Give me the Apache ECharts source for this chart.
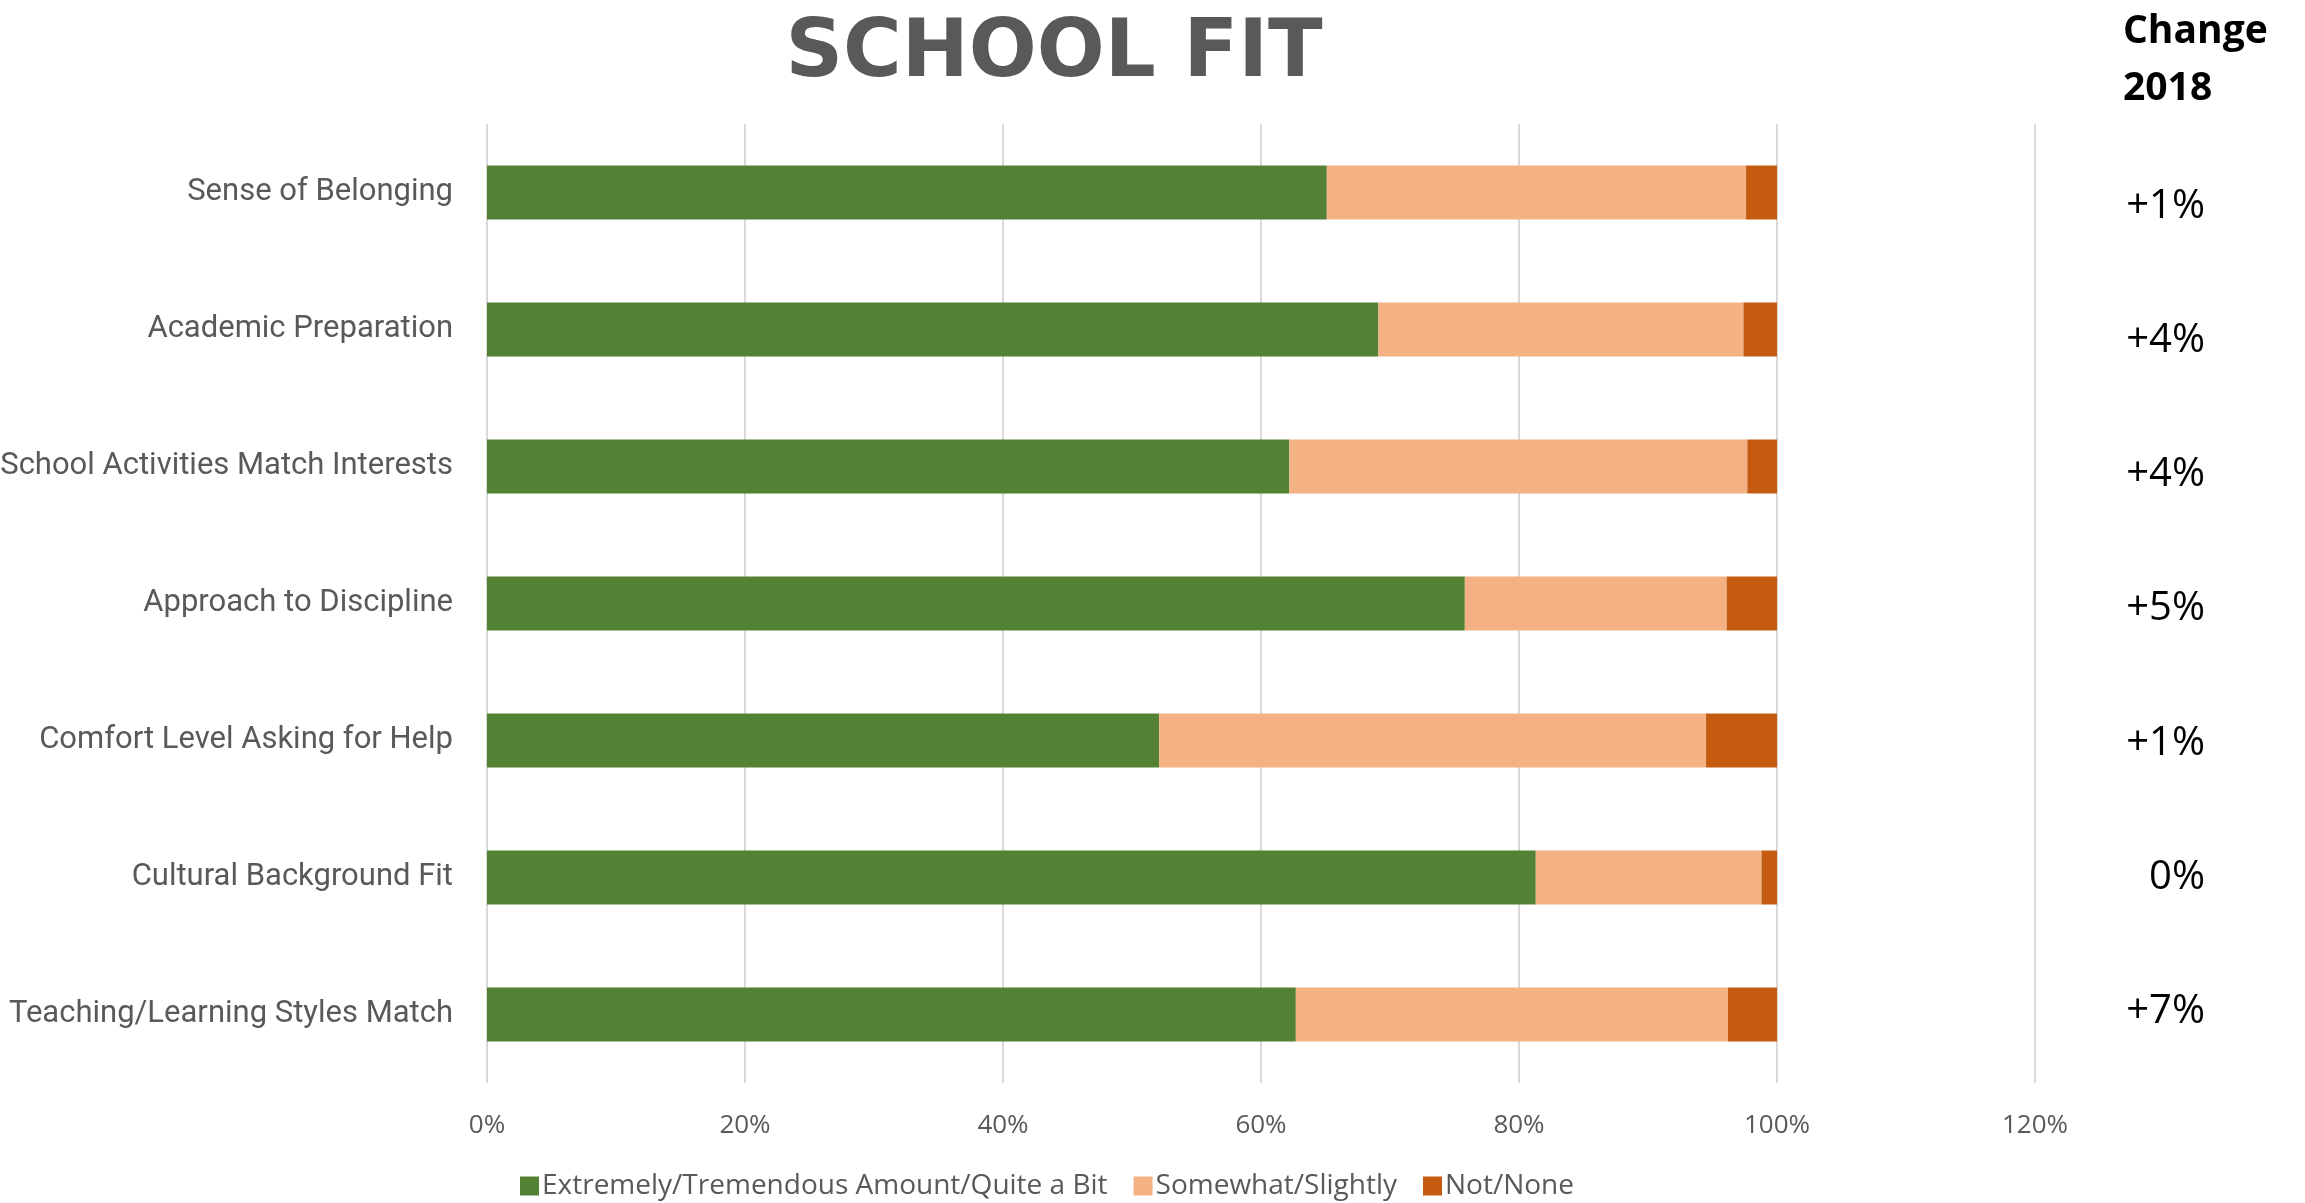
<!DOCTYPE html>
<html>
<head>
<meta charset="utf-8">
<title>School Fit</title>
<script src="https://cdn.jsdelivr.net/npm/echarts@6/dist/echarts.min.js"></script>
<style>
    html, body { margin: 0; padding: 0; background: #ffffff; }
    #chart { width: 2305px; height: 1203px; }
</style>
</head>
<body>
<div id="chart"></div>
<script>
// categories, top to bottom
var categories = [
    'Sense of Belonging',
    'Academic Preparation',
    'School Activities Match Interests',
    'Approach to Discipline',
    'Comfort Level Asking for Help',
    'Cultural Background Fit',
    'Teaching/Learning Styles Match'
];

// percentages
var extremely = [65.1, 69.1, 62.2, 75.8, 52.1, 81.3, 62.7];
var somewhat  = [32.5, 28.3, 35.5, 20.3, 42.4, 17.5, 33.5];
var notNone   = [2.4, 2.6, 2.3, 3.9, 5.5, 1.2, 3.8];

// change since 2018, same order
var change2018 = ['+1%', '+4%', '+4%', '+5%', '+1%', '0%', '+7%'];

var seriesNames = ['Extremely/Tremendous Amount/Quite a Bit', 'Somewhat/Slightly', 'Not/None'];
var seriesColors = ['#548235', '#F4B183', '#C55A11'];

var chart = echarts.init(document.getElementById('chart'));

var GREY = '#595959';
var seriesData = [extremely, somewhat, notNone];
var series = [];
for (let i = 0; i < seriesData.length; i++)
{
    series.push({
        name: seriesNames[i],
        type: 'bar',
        stack: 'total',
        barWidth: 54,
        xAxisIndex: 0,
        yAxisIndex: 0,
        itemStyle: { color: seriesColors[i] },
        emphasis: { disabled: true },
        data: seriesData[i]
    });
}

var option = {
    animation: false,
    backgroundColor: '#ffffff',
    title: [{
        text: 'SCHOOL FIT',
        left: 1049,
        top: 10,
        textAlign: 'center',
        textStyle: {
            fontFamily: 'DejaVu Sans',
            fontWeight: 'bold',
            fontSize: 80,
            color: GREY
        }
    }, {
        text: 'Change\n2018',
        left: 2123,
        top: 3,
        padding: 0,
        textStyle: {
            fontFamily: 'Open Sans',
            fontWeight: 'bold',
            fontSize: 39,
            lineHeight: 57,
            color: '#000000'
        }
    }],
    legend: {
        data: seriesNames,
        left: 515,
        top: 1167,
        icon: 'rect',
        itemWidth: 19,
        itemHeight: 19,
        itemGap: 26,
        textStyle: {
            fontFamily: 'Open Sans',
            fontSize: 28,
            color: GREY,
            padding: [0, 0, 0, -2]
        }
    },
    grid: [{
        left: 487,
        right: 270,
        top: 124,
        bottom: 120,
        outerBoundsMode: 'none',
        containLabel: false
    }, {
        left: 487,
        right: 270,
        top: 139,
        bottom: 124,
        outerBoundsMode: 'none',
        containLabel: false
    }],
    xAxis: [{
        type: 'value',
        gridIndex: 0,
        min: 0,
        max: 120,
        interval: 20,
        axisLine: { show: false },
        axisTick: { show: false },
        splitLine: { lineStyle: { color: '#d9d9d9', width: 2 } },
        axisLabel: {
            formatter: '{value}%',
            fontFamily: 'Open Sans',
            fontSize: 26,
            color: GREY,
            margin: 30
        }
    }, {
        type: 'value',
        gridIndex: 1,
        show: false
    }],
    yAxis: [{
        type: 'category',
        gridIndex: 0,
        inverse: true,
        data: categories,
        axisLine: { show: false },
        axisTick: { show: false },
        axisLabel: {
            fontFamily: 'Roboto',
            fontSize: 31,
            color: GREY,
            margin: 34,
            padding: [4, 0, 0, 0]
        }
    }, {
        type: 'category',
        gridIndex: 1,
        position: 'right',
        inverse: true,
        data: change2018,
        axisLine: { show: false },
        axisTick: { show: false },
        splitLine: { show: false },
        axisLabel: {
            align: 'right',
            margin: 170,
            fontFamily: 'Open Sans',
            fontSize: 40,
            color: '#000000'
        }
    }],
    series: series
};

chart.setOption(option);
</script>
</body>
</html>
